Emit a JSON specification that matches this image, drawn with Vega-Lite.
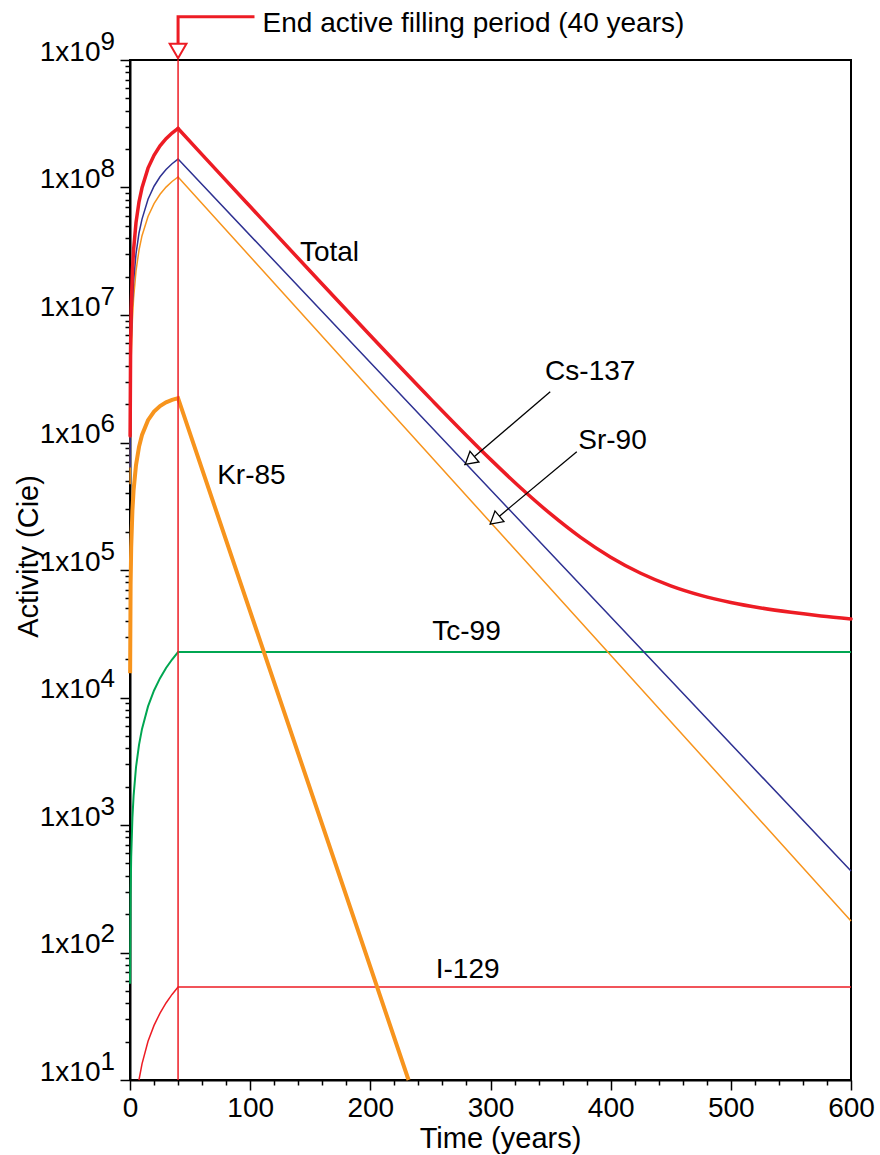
{
  "$schema": "https://vega.github.io/schema/vega-lite/v6.json",
  "width": 721,
  "height": 1020,
  "autosize": {"type": "none"},
  "padding": {"left": 130, "top": 60, "right": 29, "bottom": 75},
  "background": "white",
  "datasets": {
    "curves": [
      {"s": "Total", "t": 0.1, "v": 1124100}, {"s": "Total", "t": 0.5, "v": 5593400}, {"s": "Total", "t": 1, "v": 11119200},
      {"s": "Total", "t": 2, "v": 21975100}, {"s": "Total", "t": 3, "v": 32574300}, {"s": "Total", "t": 5, "v": 53032000},
      {"s": "Total", "t": 7.5, "v": 77260000}, {"s": "Total", "t": 10, "v": 99533000}, {"s": "Total", "t": 15, "v": 141886000},
      {"s": "Total", "t": 20, "v": 178962000}, {"s": "Total", "t": 25, "v": 211928000}, {"s": "Total", "t": 30, "v": 241235000},
      {"s": "Total", "t": 35, "v": 267254000}, {"s": "Total", "t": 40, "v": 290400000}, {"s": "Total", "t": 60, "v": 181080000},
      {"s": "Total", "t": 80, "v": 113210000}, {"s": "Total", "t": 100, "v": 70880000}, {"s": "Total", "t": 150, "v": 22026000},
      {"s": "Total", "t": 200, "v": 6898000}, {"s": "Total", "t": 250, "v": 2207800}, {"s": "Total", "t": 300, "v": 737200},
      {"s": "Total", "t": 325, "v": 441600}, {"s": "Total", "t": 350, "v": 275300}, {"s": "Total", "t": 375, "v": 180320},
      {"s": "Total", "t": 400, "v": 126000}, {"s": "Total", "t": 425, "v": 94224}, {"s": "Total", "t": 450, "v": 75128},
      {"s": "Total", "t": 475, "v": 63276}, {"s": "Total", "t": 500, "v": 55622}, {"s": "Total", "t": 525, "v": 50396},
      {"s": "Total", "t": 550, "v": 46597}, {"s": "Total", "t": 575, "v": 43631}, {"s": "Total", "t": 600, "v": 41318},

      {"s": "Cs-137", "t": 0.1, "v": 637500}, {"s": "Cs-137", "t": 0.5, "v": 3173000}, {"s": "Cs-137", "t": 1, "v": 6309000},
      {"s": "Cs-137", "t": 2, "v": 12475000}, {"s": "Cs-137", "t": 3, "v": 18500000}, {"s": "Cs-137", "t": 5, "v": 30150000},
      {"s": "Cs-137", "t": 7.5, "v": 43970000}, {"s": "Cs-137", "t": 10, "v": 56460000}, {"s": "Cs-137", "t": 15, "v": 81000000},
      {"s": "Cs-137", "t": 20, "v": 102330000}, {"s": "Cs-137", "t": 25, "v": 121380000}, {"s": "Cs-137", "t": 30, "v": 138360000},
      {"s": "Cs-137", "t": 35, "v": 153480000}, {"s": "Cs-137", "t": 40, "v": 167000000}, {"s": "Cs-137", "t": 600, "v": 435},

      {"s": "Sr-90", "t": 0.1, "v": 470600}, {"s": "Sr-90", "t": 0.5, "v": 2341600}, {"s": "Sr-90", "t": 1, "v": 4655000},
      {"s": "Sr-90", "t": 2, "v": 9199000}, {"s": "Sr-90", "t": 3, "v": 13636000}, {"s": "Sr-90", "t": 5, "v": 22194000},
      {"s": "Sr-90", "t": 7.5, "v": 32330000}, {"s": "Sr-90", "t": 10, "v": 41880000}, {"s": "Sr-90", "t": 15, "v": 59320000},
      {"s": "Sr-90", "t": 20, "v": 74790000}, {"s": "Sr-90", "t": 25, "v": 88500000}, {"s": "Sr-90", "t": 30, "v": 100670000},
      {"s": "Sr-90", "t": 35, "v": 111450000}, {"s": "Sr-90", "t": 40, "v": 121000000}, {"s": "Sr-90", "t": 600, "v": 177},

      {"s": "Kr-85", "t": 0.1, "v": 15498}, {"s": "Kr-85", "t": 0.5, "v": 76500}, {"s": "Kr-85", "t": 1, "v": 150570},
      {"s": "Kr-85", "t": 2, "v": 291750}, {"s": "Kr-85", "t": 3, "v": 424100}, {"s": "Kr-85", "t": 5, "v": 664600},
      {"s": "Kr-85", "t": 7.5, "v": 924800}, {"s": "Kr-85", "t": 10, "v": 1146200}, {"s": "Kr-85", "t": 15, "v": 1495200},
      {"s": "Kr-85", "t": 20, "v": 1748000}, {"s": "Kr-85", "t": 25, "v": 1931200}, {"s": "Kr-85", "t": 30, "v": 2064100},
      {"s": "Kr-85", "t": 35, "v": 2160300}, {"s": "Kr-85", "t": 40, "v": 2230000}, {"s": "Kr-85", "t": 231.8, "v": 10},

      {"s": "Tc-99", "t": 0.1, "v": 56.75}, {"s": "Tc-99", "t": 0.5, "v": 283.8}, {"s": "Tc-99", "t": 1, "v": 567.5},
      {"s": "Tc-99", "t": 2, "v": 1135}, {"s": "Tc-99", "t": 3, "v": 1702}, {"s": "Tc-99", "t": 5, "v": 2838},
      {"s": "Tc-99", "t": 7.5, "v": 4256}, {"s": "Tc-99", "t": 10, "v": 5675}, {"s": "Tc-99", "t": 15, "v": 8513},
      {"s": "Tc-99", "t": 20, "v": 11350}, {"s": "Tc-99", "t": 25, "v": 14188}, {"s": "Tc-99", "t": 30, "v": 17025},
      {"s": "Tc-99", "t": 35, "v": 19863}, {"s": "Tc-99", "t": 40, "v": 22700}, {"s": "Tc-99", "t": 600, "v": 22700},

      {"s": "I-129", "t": 7.46, "v": 10}, {"s": "I-129", "t": 10, "v": 13.4}, {"s": "I-129", "t": 15, "v": 20.1},
      {"s": "I-129", "t": 20, "v": 26.8}, {"s": "I-129", "t": 25, "v": 33.5}, {"s": "I-129", "t": 30, "v": 40.2},
      {"s": "I-129", "t": 35, "v": 46.9}, {"s": "I-129", "t": 40, "v": 53.6}, {"s": "I-129", "t": 600, "v": 53.6}
    ],
    "labels": [
      {"label": "Total", "t": 166, "v": 30600000},
      {"label": "Cs-137", "t": 383, "v": 3570000},
      {"label": "Sr-90", "t": 401.5, "v": 1030000},
      {"label": "Kr-85", "t": 101, "v": 546000},
      {"label": "Tc-99", "t": 280, "v": 32700},
      {"label": "I-129", "t": 281, "v": 72.9}
    ],
    "note": [{"label": "End active filling period (40 years)", "t": 110.3, "v": 1658000000}],
    "leader": [
      {"i": 0, "t": 103.6, "v": 2186000000},
      {"i": 1, "t": 40, "v": 2186000000},
      {"i": 2, "t": 40, "v": 1335000000}
    ],
    "marker": [{"t": 40, "v": 1177000000}],
    "fill40": [{"t": 40, "v": 10, "v2": 1000000000}],
    "arrows": [
      {"t": 349.7, "v": 2500000, "t2": 278.4, "v2": 666000},
      {"t": 371.8, "v": 847000, "t2": 299.7, "v2": 230000}
    ],
    "heads": [
      {"t": 282.8, "v": 722000},
      {"t": 303.6, "v": 245800}
    ]
  },
  "resolve": {"axis": {"x": "independent", "y": "independent"}},
  "layer": [
    {
      "data": {"name": "curves"},
      "transform": [{"filter": "datum.s === 'Tc-99'"}],
      "mark": {"type": "line", "color": "#00a651", "strokeWidth": 2},
      "encoding": {
        "x": {"field": "t", "type": "quantitative", "scale": {"domain": [0, 600], "nice": false, "zero": false},
          "axis": {"orient": "bottom", "values": [0, 100, 200, 300, 400, 500, 600], "tickSize": 10, "labelFontSize": 28, "labelPadding": 4,
            "title": "Time (years)", "titleFontSize": 29, "titlePadding": 2, "titleX": 370}},
        "y": {"field": "v", "type": "quantitative", "scale": {"type": "log", "domain": [10, 1000000000], "nice": false},
          "axis": {"orient": "left", "values": [10, 100, 1000, 10000, 100000, 1000000, 10000000, 100000000, 1000000000],
            "labelExpr": "'1x10'", "tickSize": 10, "labelFontSize": 28, "labelPadding": 20, "labelAlign": "right", "labelBaseline": "alphabetic",
            "title": "Activity (Cie)", "titleFontSize": 29, "titleX": -93, "titleY": 496, "titleBaseline": "alphabetic", "titleAlign": "center", "titleAngle": -90}}
      }
    },
    {
      "data": {"name": "curves"},
      "transform": [{"filter": "datum.s === 'I-129'"}],
      "mark": {"type": "line", "color": "#ed1c24", "strokeWidth": 1.5},
      "encoding": {
        "x": {"field": "t", "type": "quantitative", "scale": {"domain": [0, 600], "nice": false, "zero": false},
          "axis": {"orient": "bottom", "values": [20, 40, 60, 80, 120, 140, 160, 180, 220, 240, 260, 280, 320, 340, 360, 380, 420, 440, 460, 480, 520, 540, 560, 580],
            "tickSize": 5, "labels": false, "domain": false, "title": null}},
        "y": {"field": "v", "type": "quantitative", "scale": {"type": "log", "domain": [10, 1000000000], "nice": false},
          "axis": {"orient": "left", "values": [20, 30, 40, 50, 60, 70, 80, 90, 200, 300, 400, 500, 600, 700, 800, 900,
            2000, 3000, 4000, 5000, 6000, 7000, 8000, 9000, 20000, 30000, 40000, 50000, 60000, 70000, 80000, 90000,
            200000, 300000, 400000, 500000, 600000, 700000, 800000, 900000, 2000000, 3000000, 4000000, 5000000, 6000000, 7000000, 8000000, 9000000,
            20000000, 30000000, 40000000, 50000000, 60000000, 70000000, 80000000, 90000000,
            200000000, 300000000, 400000000, 500000000, 600000000, 700000000, 800000000, 900000000],
            "tickSize": 5, "labels": false, "domain": false, "title": null}}
      }
    },
    {
      "data": {"name": "curves"},
      "transform": [{"filter": "datum.s === 'Sr-90'"}],
      "mark": {"type": "line", "color": "#f7941d", "strokeWidth": 1.5},
      "encoding": {
        "x": {"field": "t", "type": "quantitative", "scale": {"domain": [0, 600], "nice": false, "zero": false}, "axis": null},
        "y": {"field": "v", "type": "quantitative", "scale": {"type": "log", "domain": [10, 1000000000], "nice": false},
          "axis": {"orient": "left", "values": [10, 100, 1000, 10000, 100000, 1000000, 10000000, 100000000, 1000000000],
            "labelExpr": "'' + round(log(datum.value) / LN10)", "ticks": false, "tickSize": 0, "domain": false,
            "labelPadding": 30, "labelAlign": "left", "labelFontSize": 26, "labelBaseline": "alphabetic", "labelOffset": -11, "title": null}}
      }
    },
    {
      "data": {"name": "curves"},
      "transform": [{"filter": "datum.s === 'Cs-137'"}],
      "mark": {"type": "line", "color": "#2e3192", "strokeWidth": 1.5},
      "encoding": {
        "x": {"field": "t", "type": "quantitative", "scale": {"domain": [0, 600], "nice": false, "zero": false}, "axis": null},
        "y": {"field": "v", "type": "quantitative", "scale": {"type": "log", "domain": [10, 1000000000], "nice": false}, "axis": null}
      }
    },
    {
      "data": {"name": "curves"},
      "transform": [{"filter": "datum.s === 'Kr-85'"}],
      "mark": {"type": "line", "color": "#f7941d", "strokeWidth": 4},
      "encoding": {
        "x": {"field": "t", "type": "quantitative", "scale": {"domain": [0, 600], "nice": false, "zero": false}, "axis": null},
        "y": {"field": "v", "type": "quantitative", "scale": {"type": "log", "domain": [10, 1000000000], "nice": false}, "axis": null}
      }
    },
    {
      "data": {"name": "curves"},
      "transform": [{"filter": "datum.s === 'Total' && datum.t <= 40"}],
      "mark": {"type": "line", "color": "#ed1c24", "strokeWidth": 3.5, "strokeCap": "round"},
      "encoding": {
        "x": {"field": "t", "type": "quantitative", "scale": {"domain": [0, 600], "nice": false, "zero": false}, "axis": null},
        "y": {"field": "v", "type": "quantitative", "scale": {"type": "log", "domain": [10, 1000000000], "nice": false}, "axis": null}
      }
    },
    {
      "data": {"name": "curves"},
      "transform": [{"filter": "datum.s === 'Total' && datum.t >= 40"}],
      "mark": {"type": "line", "color": "#ed1c24", "strokeWidth": 3.5, "strokeCap": "round", "interpolate": "monotone"},
      "encoding": {
        "x": {"field": "t", "type": "quantitative", "scale": {"domain": [0, 600], "nice": false, "zero": false}, "axis": null},
        "y": {"field": "v", "type": "quantitative", "scale": {"type": "log", "domain": [10, 1000000000], "nice": false}, "axis": null}
      }
    },
    {
      "data": {"name": "fill40"},
      "mark": {"type": "rule", "color": "#ed1c24", "strokeWidth": 1.5},
      "encoding": {
        "x": {"field": "t", "type": "quantitative", "scale": {"domain": [0, 600], "nice": false, "zero": false}, "axis": null},
        "y": {"field": "v", "type": "quantitative", "scale": {"type": "log", "domain": [10, 1000000000], "nice": false}, "axis": null},
        "y2": {"field": "v2"}
      }
    },
    {
      "data": {"name": "leader"},
      "mark": {"type": "line", "color": "#ed1c24", "strokeWidth": 3, "strokeJoin": "miter", "strokeCap": "butt"},
      "encoding": {
        "x": {"field": "t", "type": "quantitative", "scale": {"domain": [0, 600], "nice": false, "zero": false}, "axis": null},
        "y": {"field": "v", "type": "quantitative", "scale": {"type": "log", "domain": [10, 1000000000], "nice": false}, "axis": null},
        "order": {"field": "i", "type": "quantitative"}
      }
    },
    {
      "data": {"name": "marker"},
      "mark": {"type": "point", "shape": "triangle-down", "size": 280, "filled": true, "fill": "white", "stroke": "#ed1c24", "strokeWidth": 2, "opacity": 1},
      "encoding": {
        "x": {"field": "t", "type": "quantitative", "scale": {"domain": [0, 600], "nice": false, "zero": false}, "axis": null},
        "y": {"field": "v", "type": "quantitative", "scale": {"type": "log", "domain": [10, 1000000000], "nice": false}, "axis": null}
      }
    },
    {
      "data": {"name": "arrows"},
      "mark": {"type": "rule", "color": "black", "strokeWidth": 1.3},
      "encoding": {
        "x": {"field": "t", "type": "quantitative", "scale": {"domain": [0, 600], "nice": false, "zero": false}, "axis": null},
        "y": {"field": "v", "type": "quantitative", "scale": {"type": "log", "domain": [10, 1000000000], "nice": false}, "axis": null},
        "x2": {"field": "t2"},
        "y2": {"field": "v2"}
      }
    },
    {
      "data": {"name": "heads"},
      "mark": {"type": "point", "shape": "triangle-up", "size": 196, "angle": 230, "filled": true, "fill": "white", "stroke": "black", "strokeWidth": 1.3, "opacity": 1},
      "encoding": {
        "x": {"field": "t", "type": "quantitative", "scale": {"domain": [0, 600], "nice": false, "zero": false}, "axis": null},
        "y": {"field": "v", "type": "quantitative", "scale": {"type": "log", "domain": [10, 1000000000], "nice": false}, "axis": null}
      }
    },
    {
      "data": {"name": "labels"},
      "mark": {"type": "text", "fontSize": 28, "align": "center", "baseline": "middle", "color": "black"},
      "encoding": {
        "x": {"field": "t", "type": "quantitative", "scale": {"domain": [0, 600], "nice": false, "zero": false}, "axis": null},
        "y": {"field": "v", "type": "quantitative", "scale": {"type": "log", "domain": [10, 1000000000], "nice": false}, "axis": null},
        "text": {"field": "label"}
      }
    },
    {
      "data": {"name": "note"},
      "mark": {"type": "text", "fontSize": 28, "align": "left", "baseline": "alphabetic", "color": "black"},
      "encoding": {
        "x": {"field": "t", "type": "quantitative", "scale": {"domain": [0, 600], "nice": false, "zero": false}, "axis": null},
        "y": {"field": "v", "type": "quantitative", "scale": {"type": "log", "domain": [10, 1000000000], "nice": false}, "axis": null},
        "text": {"field": "label"}
      }
    }
  ],
  "config": {
    "font": "Liberation Sans",
    "view": {"stroke": "black", "strokeWidth": 2},
    "axis": {
      "grid": false, "labelColor": "black", "titleColor": "black", "tickColor": "black", "domainColor": "black",
      "labelOverlap": false, "labelBound": false, "labelFlush": false, "titleFontWeight": "normal",
      "domainWidth": 2, "tickWidth": 1.5, "labelFont": "Liberation Sans", "titleFont": "Liberation Sans"
    }
  }
}
